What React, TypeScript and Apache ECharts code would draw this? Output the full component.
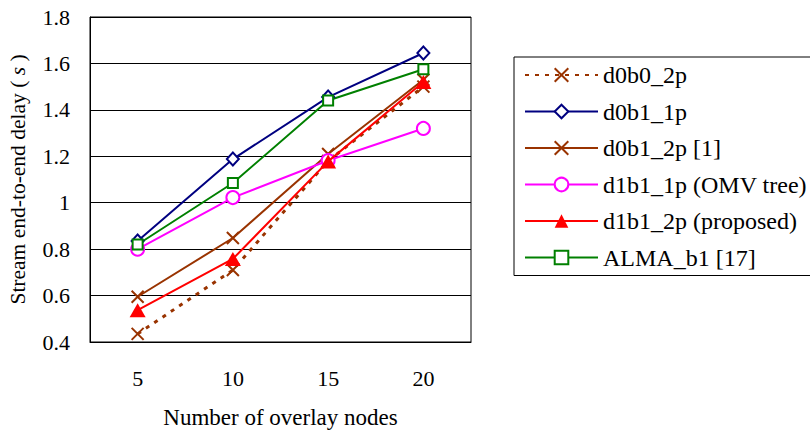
import React, { useEffect, useRef } from 'react';
import * as echarts from 'echarts';

const categories = ['5', '10', '15', '20'];
const d0b0_2p = [0.435, 0.71, 1.18, 1.5];
const d0b1_1p = [0.835, 1.188, 1.455, 1.645];
const d0b1_2p = [0.595, 0.848, 1.21, 1.53];
const d1b1_1p = [0.8, 1.022, 1.182, 1.32];
const d1b1_2p = [0.537, 0.758, 1.178, 1.52];
const alma_b1 = [0.82, 1.085, 1.44, 1.575];
const seriesNames = [
  'd0b0_2p',
  'd0b1_1p',
  'd0b1_2p [1]',
  'd1b1_1p (OMV tree)',
  'd1b1_2p (proposed)',
  'ALMA_b1 [17]',
];

const FONT = 'Liberation Serif, Times New Roman, serif';
const CROSS = 'path://M0,0L10,10M10,0L0,10';

export default function App() {
  const ref = useRef<HTMLDivElement>(null);
  useEffect(() => {
    if (!ref.current) return;
    const chart = echarts.init(ref.current, undefined, { renderer: 'svg' });
    const brown = '#993300';
    const mk = (name: string, data: number[], color: string, symbol: string, size: any, extra: any = {}) => ({
      name,
      type: 'line',
      data,
      color,
      symbol,
      symbolSize: size,
      lineStyle: { color, width: 2, ...(extra.lineStyle || {}) },
      itemStyle: { color: extra.fill ?? '#fff', borderColor: color, borderWidth: extra.bw ?? 2 },
      z: extra.z ?? 2,
    });
    chart.setOption({
      animation: false,
      textStyle: { fontFamily: FONT, color: '#000' },
      grid: { left: 90, top: 17, right: 339, bottom: 89, show: true, borderColor: '#000', borderWidth: 1 },
      legend: {
        orient: 'vertical',
        left: 514,
        top: 57,
        padding: [6, 10, 6, 10],
        borderColor: '#000',
        borderWidth: 1,
        itemWidth: 73,
        itemHeight: 17,
        itemGap: 12.5,
        textStyle: { fontFamily: FONT, fontSize: 24, color: '#000', lineHeight: 24 },
        data: seriesNames,
      },
      xAxis: {
        type: 'category',
        data: categories,
        boundaryGap: true,
        axisLine: { lineStyle: { color: '#000', width: 1 } },
        axisTick: { inside: true, length: 7, lineStyle: { color: '#000' } },
        axisLabel: { fontSize: 22, color: '#000', fontFamily: FONT, margin: 25 },
        name: 'Number of overlay nodes',
        nameLocation: 'middle',
        nameGap: 64,
        nameTextStyle: { fontSize: 23, color: '#000', fontFamily: FONT },
      },
      yAxis: {
        type: 'value',
        min: 0.4,
        max: 1.8,
        interval: 0.2,
        axisLine: { show: true, lineStyle: { color: '#000', width: 1 } },
        axisTick: { show: false },
        splitLine: { lineStyle: { color: '#000', width: 1 } },
        axisLabel: { fontSize: 22, color: '#000', fontFamily: FONT, margin: 20 },
        name: 'Stream end-to-end delay ( {i|s} )',
        nameLocation: 'middle',
        nameGap: 61,
        nameTextStyle: {
          fontSize: 21.5,
          color: '#000',
          fontFamily: FONT,
          rich: { i: { fontStyle: 'italic', fontSize: 21.5, fontFamily: FONT, color: '#000' } },
        },
      },
      series: [
        mk(seriesNames[0], d0b0_2p, brown, CROSS, 12, { fill: 'transparent', lineStyle: { type: [4, 6], width: 3 } }),
        mk(seriesNames[1], d0b1_1p, '#000080', 'diamond', [12, 13]),
        mk(seriesNames[2], d0b1_2p, brown, CROSS, 12, { fill: 'transparent' }),
        mk(seriesNames[3], d1b1_1p, '#ff00ff', 'circle', 13),
        mk(seriesNames[4], d1b1_2p, '#ff0000', 'triangle', [16, 14], { fill: '#ff0000', bw: 0, z: 3 }),
        mk(seriesNames[5], alma_b1, '#008000', 'rect', 10),
      ],
    });
    return () => chart.dispose();
  }, []);
  return <div ref={ref} style={{ position: 'absolute', left: 0, top: 0, width: 810, height: 434 }} />;
}
